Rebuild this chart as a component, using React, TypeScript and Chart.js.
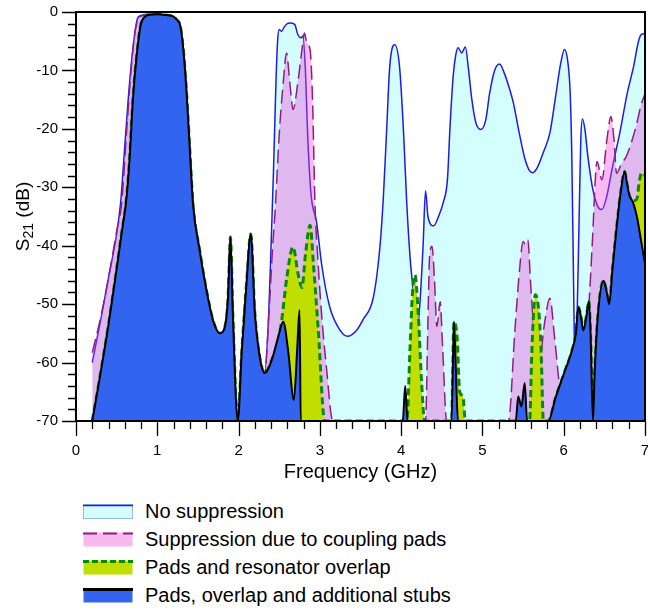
import React, { useEffect, useRef } from 'react';
import { Chart, registerables } from 'chart.js';

Chart.register(...registerables);

// ---- data: [frequency (GHz), S21 (dB)] ----
const noSuppression: number[][] = [
  [0.20, -60], [0.30, -53], [0.40, -45.5], [0.50, -38], [0.55, -32.5], [0.60, -23], [0.66, -12], [0.72, -4],
  [0.76, -1.0], [0.80, -0.6], [0.90, -0.4], [1.00, -0.4], [1.10, -0.5], [1.20, -0.8], [1.25, -1.5], [1.28, -2.2],
  [1.32, -6.4], [1.36, -13.8], [1.40, -23.6], [1.44, -33], [1.52, -40.7], [1.61, -48], [1.69, -53], [1.77, -55],
  [1.83, -54], [1.87, -49], [1.90, -38.5], [1.93, -52], [1.99, -70], [2.04, -58], [2.10, -46], [2.15, -38],
  [2.20, -51.5], [2.26, -59], [2.32, -61.8], [2.37, -52], [2.40, -40], [2.43, -27], [2.46, -12], [2.48, -5],
  [2.50, -3], [2.53, -3.3], [2.56, -2.6], [2.59, -2.1], [2.63, -1.9], [2.69, -2.1], [2.73, -3.9], [2.77, -4.4],
  [2.79, -4.1], [2.82, -9.3], [2.85, -21], [2.89, -31], [2.96, -36], [3.02, -43], [3.12, -50.4], [3.25, -54.5],
  [3.34, -55.5], [3.45, -54.5], [3.53, -52.7], [3.66, -48.7], [3.74, -40], [3.78, -32], [3.82, -20.7], [3.86, -9.3],
  [3.92, -5.6], [3.98, -9.3], [4.03, -20.7], [4.07, -33], [4.11, -42], [4.15, -48], [4.19, -55], [4.23, -50],
  [4.27, -40], [4.30, -30.6], [4.33, -35], [4.40, -36.6], [4.46, -35], [4.52, -32.5], [4.57, -28.6], [4.60, -20],
  [4.64, -11], [4.67, -7.5], [4.70, -6.1], [4.745, -7], [4.79, -6], [4.83, -10], [4.87, -15], [4.92, -19],
  [4.98, -20.1], [5.04, -18.5], [5.09, -13.8], [5.15, -10], [5.21, -8.9], [5.27, -10.5], [5.33, -13], [5.38, -15.5],
  [5.45, -20.5], [5.52, -25], [5.58, -27.2], [5.62, -27.5], [5.68, -26.5], [5.75, -24], [5.83, -20.7], [5.90, -14.5],
  [5.96, -9], [6.01, -6.4], [6.05, -8.5], [6.08, -14], [6.10, -25], [6.12, -45], [6.14, -62], [6.16, -55],
  [6.19, -35], [6.21, -22], [6.23, -18.3], [6.26, -20], [6.30, -25], [6.36, -30.5], [6.42, -33.3], [6.47, -33.8],
  [6.53, -31.5], [6.60, -26.5], [6.69, -20.7], [6.78, -14], [6.86, -9.3], [6.92, -5], [6.96, -3.8], [7.00, -3.7],
];

const couplingPads: number[][] = [
  [0.20, -58.3], [0.30, -52.5], [0.40, -45.5], [0.50, -37.5], [0.56, -33], [0.62, -21], [0.68, -9.5], [0.72, -4],
  [0.76, -1.3], [0.80, -0.7], [0.90, -0.4], [1.00, -0.4], [1.10, -0.5], [1.20, -0.8], [1.25, -1.5], [1.28, -2.2],
  [1.32, -6.4], [1.36, -13.8], [1.40, -23.6], [1.44, -33], [1.52, -40.7], [1.61, -48], [1.69, -53], [1.77, -55],
  [1.83, -54], [1.87, -49], [1.90, -38.5], [1.93, -52], [1.99, -70], [2.04, -58], [2.10, -46], [2.15, -38],
  [2.20, -51.5], [2.26, -59], [2.32, -61.8], [2.38, -50], [2.42, -40], [2.45, -34], [2.50, -21], [2.55, -12],
  [2.59, -7], [2.63, -12], [2.67, -16.7], [2.73, -12], [2.78, -6.4], [2.81, -3.6], [2.84, -5.3], [2.88, -6.5],
  [2.91, -15], [2.94, -33], [2.97, -41], [3.02, -51.5], [3.08, -60.7], [3.16, -70], [4.30, -70], [4.33, -52.7],
  [4.35, -41.8], [4.38, -40.1], [4.41, -45.8], [4.44, -53.8], [4.48, -49.6], [4.51, -57.3], [4.56, -70], [5.32, -70],
  [5.40, -54.4], [5.46, -43.6], [5.50, -39.3], [5.53, -39.8], [5.56, -39], [5.59, -45.8], [5.63, -54], [5.70, -62],
  [5.74, -56], [5.77, -52.7], [5.83, -49], [5.89, -56], [5.97, -65], [6.05, -62], [6.15, -57], [6.20, -54],
  [6.25, -56], [6.31, -50], [6.35, -40], [6.41, -25.6], [6.47, -28.7], [6.53, -22], [6.58, -17.9], [6.62, -22],
  [6.65, -27.6], [6.71, -26], [6.77, -24.7], [6.84, -22], [6.90, -19], [6.95, -16], [7.00, -14],
];

const resonatorOverlap: number[][] = [
  [0.20, -70], [0.30, -62], [0.40, -53.5], [0.50, -44], [0.56, -38], [0.62, -32], [0.66, -25], [0.70, -15],
  [0.75, -7], [0.80, -2], [0.85, -0.8], [0.90, -0.5], [1.00, -0.4], [1.10, -0.5], [1.20, -0.8], [1.25, -1.5],
  [1.28, -2.2], [1.32, -6.4], [1.36, -13.8], [1.40, -23.6], [1.44, -33], [1.52, -40.7], [1.61, -48], [1.69, -53],
  [1.77, -55], [1.83, -54], [1.87, -49], [1.90, -38.5], [1.93, -52], [1.99, -70], [2.04, -58], [2.10, -46],
  [2.15, -38], [2.20, -51.5], [2.26, -59], [2.32, -61.8], [2.41, -59.5], [2.49, -56], [2.53, -52.8], [2.59, -45.8],
  [2.67, -40.2], [2.73, -44.7], [2.78, -47.2], [2.82, -41.9], [2.88, -36.5], [2.92, -43], [2.98, -54.4], [3.06, -70],
  [4.07, -70], [4.11, -57.3], [4.14, -48], [4.17, -45], [4.21, -51.5], [4.25, -63], [4.29, -70], [4.62, -70],
  [4.65, -53], [4.69, -56], [4.72, -65], [4.76, -65.8], [4.79, -70], [5.58, -70], [5.61, -57.3], [5.65, -48.4],
  [5.69, -50.7], [5.72, -57.3], [5.75, -70], [5.81, -70], [5.90, -66], [6.00, -62], [6.10, -58], [6.15, -55],
  [6.18, -50.5], [6.21, -52], [6.24, -54.5], [6.28, -52], [6.31, -49.5], [6.33, -55], [6.36, -70], [6.38, -62],
  [6.42, -52], [6.49, -46], [6.53, -48], [6.56, -50], [6.60, -44], [6.65, -37], [6.70, -31], [6.75, -27.3],
  [6.78, -29.5], [6.81, -31.5], [6.86, -32.3], [6.90, -32], [6.93, -29], [6.96, -27.5], [7.00, -28],
];

const additionalStubs: number[][] = [
  [0.20, -70], [0.30, -62], [0.40, -53.5], [0.50, -44], [0.56, -38], [0.62, -32], [0.66, -25], [0.70, -15],
  [0.75, -7], [0.80, -2], [0.85, -0.8], [0.90, -0.5], [1.00, -0.4], [1.10, -0.5], [1.20, -0.8], [1.25, -1.5],
  [1.28, -2.2], [1.32, -6.4], [1.36, -13.8], [1.40, -23.6], [1.44, -33], [1.52, -40.7], [1.61, -48], [1.69, -53],
  [1.77, -55], [1.83, -54], [1.87, -49], [1.90, -38.5], [1.93, -52], [1.99, -70], [2.04, -58], [2.10, -46],
  [2.15, -38], [2.20, -51.5], [2.26, -59], [2.32, -61.8], [2.41, -59.5], [2.49, -55.5], [2.55, -53], [2.61, -58],
  [2.68, -66.4], [2.72, -58], [2.75, -51], [2.765, -70], [4.02, -70], [4.05, -64], [4.08, -70], [4.62, -70],
  [4.64, -58], [4.65, -53], [4.67, -60], [4.70, -70], [5.41, -70], [5.44, -65.8], [5.48, -67.5], [5.52, -63.5],
  [5.55, -70], [5.81, -70], [5.90, -66], [6.00, -62], [6.10, -58], [6.15, -55], [6.18, -50.5], [6.21, -52],
  [6.24, -54.5], [6.28, -52], [6.31, -49.5], [6.33, -55], [6.36, -70], [6.38, -62], [6.42, -52], [6.49, -46],
  [6.53, -48], [6.56, -50], [6.60, -44], [6.65, -37], [6.70, -31], [6.75, -27.3], [6.78, -29.5], [6.81, -31.5],
  [6.85, -32.5], [6.90, -35], [6.95, -39], [7.00, -43],
];

const xTickValues = [0, 1, 2, 3, 4, 5, 6, 7];
const yTickValues = [0, -10, -20, -30, -40, -50, -60, -70];
const legendLabels = [
  'No suppression',
  'Suppression due to coupling pads',
  'Pads and resonator overlap',
  'Pads, overlap and additional stubs',
];

const FONT = '"Liberation Sans", Arial, Helvetica, sans-serif';

const COLORS = {
  noneLine: '#1c1ce6',
  noneFill: '#d4fdfd',
  padsLine: '#8e1f80',
  padsFill: 'rgba(242,68,215,0.375)',
  padsLegendFill: '#f9b9f0',
  overlapLine: '#0b870b',
  overlapFill: '#c0de00',
  stubsLine: '#000000',
  stubsFill: '#3264f0',
};

const frameAndTicks = {
  id: 'frameAndTicks',
  afterDatasetsDraw(chart: any) {
    const { ctx, chartArea, scales } = chart;
    const { left, right, top, bottom } = chartArea;
    const x = scales.x;
    const y = scales.y;
    ctx.save();
    ctx.strokeStyle = '#000';
    ctx.lineWidth = 1.3;
    ctx.beginPath();
    for (let v = y.min; v <= y.max + 1e-6; v += 2) {
      const py = Math.round(y.getPixelForValue(v)) + 0.5;
      const len = Math.abs(v % 10) < 1e-6 ? 14 : 8;
      ctx.moveTo(left - len, py);
      ctx.lineTo(left, py);
    }
    for (let i = 0; i <= Math.round((x.max - x.min) / 0.2); i++) {
      const v = x.min + i * 0.2;
      const px = Math.round(x.getPixelForValue(v)) + 0.5;
      const len = i % 5 === 0 ? 15 : 8;
      ctx.moveTo(px, bottom);
      ctx.lineTo(px, bottom + len);
    }
    ctx.stroke();
    ctx.lineWidth = 2;
    ctx.strokeRect(left, top, right - left, bottom - top);

    // y axis title with subscript
    const mainFont = `19px ${FONT}`;
    const subFont = `14px ${FONT}`;
    ctx.fillStyle = '#000';
    ctx.translate(24, (top + bottom) / 2);
    ctx.rotate(-Math.PI / 2);
    ctx.textBaseline = 'middle';
    ctx.textAlign = 'left';
    ctx.font = mainFont;
    const wS = ctx.measureText('S').width;
    const wRest = ctx.measureText(' (dB)').width;
    ctx.font = subFont;
    const wSub = ctx.measureText('21').width;
    let cx = -(wS + wSub + wRest) / 2;
    ctx.font = mainFont;
    ctx.fillText('S', cx, 0);
    cx += wS;
    ctx.font = subFont;
    ctx.fillText('21', cx, 5);
    cx += wSub;
    ctx.font = mainFont;
    ctx.fillText(' (dB)', cx, 0);
    ctx.restore();
  },
};

function toPoints(arr: number[][]) {
  return arr.map(([x, y]) => ({ x, y }));
}

function LegendSymbol({ fill, stroke, dash, width, border }: any) {
  return (
    <svg width={50} height={15} style={{ display: 'block' }}>
      <rect x={0.5} y={0.5} width={49} height={14} fill={fill} stroke={border || 'none'} strokeWidth={1} />
      <line x1={0} y1={1.5} x2={50} y2={1.5} stroke={stroke} strokeWidth={width} strokeDasharray={dash || undefined} />
    </svg>
  );
}

export default function App() {
  const canvasRef = useRef<HTMLCanvasElement | null>(null);

  useEffect(() => {
    document.body.style.margin = '0';
    const canvas = canvasRef.current;
    if (!canvas) return;
    const line = {
      pointRadius: 0,
      pointHoverRadius: 0,
      fill: 'start',
      cubicInterpolationMode: 'monotone' as const,
    };
    const chart = new Chart(canvas, {
      type: 'line',
      data: {
        datasets: [
          {
            ...line,
            label: legendLabels[3],
            data: toPoints(additionalStubs),
            borderColor: COLORS.stubsLine,
            borderWidth: 2,
            backgroundColor: COLORS.stubsFill,
          },
          {
            ...line,
            label: legendLabels[2],
            data: toPoints(resonatorOverlap),
            borderColor: COLORS.overlapLine,
            borderWidth: 3,
            borderDash: [7, 4],
            backgroundColor: COLORS.overlapFill,
          },
          {
            ...line,
            label: legendLabels[1],
            data: toPoints(couplingPads),
            borderColor: COLORS.padsLine,
            borderWidth: 1.5,
            borderDash: [14, 6],
            backgroundColor: COLORS.padsFill,
          },
          {
            ...line,
            label: legendLabels[0],
            data: toPoints(noSuppression),
            borderColor: COLORS.noneLine,
            borderWidth: 1.5,
            backgroundColor: COLORS.noneFill,
          },
        ],
      },
      options: {
        animation: false,
        responsive: false,
        devicePixelRatio: 1,
        events: [],
        layout: { autoPadding: false, padding: { left: 0, right: 3, top: 12, bottom: 0 } },
        plugins: {
          legend: { display: false },
          tooltip: { enabled: false },
        },
        scales: {
          x: {
            type: 'linear',
            min: 0,
            max: 7,
            afterBuildTicks: (s: any) => {
              s.ticks = xTickValues.map((v) => ({ value: v }));
            },
            afterFit: (s: any) => {
              s.height = 69;
              s.paddingLeft = 0;
              s.paddingRight = 0;
              s.paddingTop = 0;
              s.paddingBottom = 0;
            },
            grid: { display: false, drawTicks: false },
            border: { display: false },
            ticks: {
              color: '#000',
              font: { family: FONT, size: 15 },
              padding: 21,
              maxRotation: 0,
              autoSkip: false,
            },
            title: {
              display: true,
              text: 'Frequency (GHz)',
              color: '#000',
              font: { family: FONT, size: 20 },
              padding: { top: 0, bottom: 6 },
            },
          },
          y: {
            type: 'linear',
            min: -70,
            max: 0,
            afterBuildTicks: (s: any) => {
              s.ticks = yTickValues.map((v) => ({ value: v }));
            },
            afterFit: (s: any) => {
              s.width = 76;
              s.paddingLeft = 0;
              s.paddingRight = 0;
              s.paddingTop = 0;
              s.paddingBottom = 0;
            },
            grid: { display: false, drawTicks: false },
            border: { display: false },
            ticks: {
              color: '#000',
              font: { family: FONT, size: 15 },
              padding: 18,
              autoSkip: false,
            },
          },
        },
      },
      plugins: [frameAndTicks],
    } as any);
    return () => chart.destroy();
  }, []);

  const symbols = [
    { fill: COLORS.noneFill, stroke: COLORS.noneLine, width: 1.5, border: '#9bb8ee' },
    { fill: COLORS.padsLegendFill, stroke: COLORS.padsLine, width: 2, dash: '14 6' },
    { fill: COLORS.overlapFill, stroke: COLORS.overlapLine, width: 3, dash: '6 3' },
    { fill: COLORS.stubsFill, stroke: COLORS.stubsLine, width: 3 },
  ];

  return (
    <div style={{ position: 'relative', width: 648, height: 610, background: '#fff', overflow: 'hidden' }}>
      <canvas ref={canvasRef} width={648} height={490} style={{ position: 'absolute', left: 0, top: 0, width: 648, height: 490 }} />
      {legendLabels.map((label, i) => (
        <div
          key={label}
          style={{
            position: 'absolute',
            left: 83,
            top: 497 + i * 28,
            height: 28,
            display: 'flex',
            alignItems: 'center',
            fontFamily: FONT,
            fontSize: 20,
            color: '#000',
            whiteSpace: 'nowrap',
          }}
        >
          <LegendSymbol {...symbols[i]} />
          <span style={{ marginLeft: 12 }}>{label}</span>
        </div>
      ))}
    </div>
  );
}
